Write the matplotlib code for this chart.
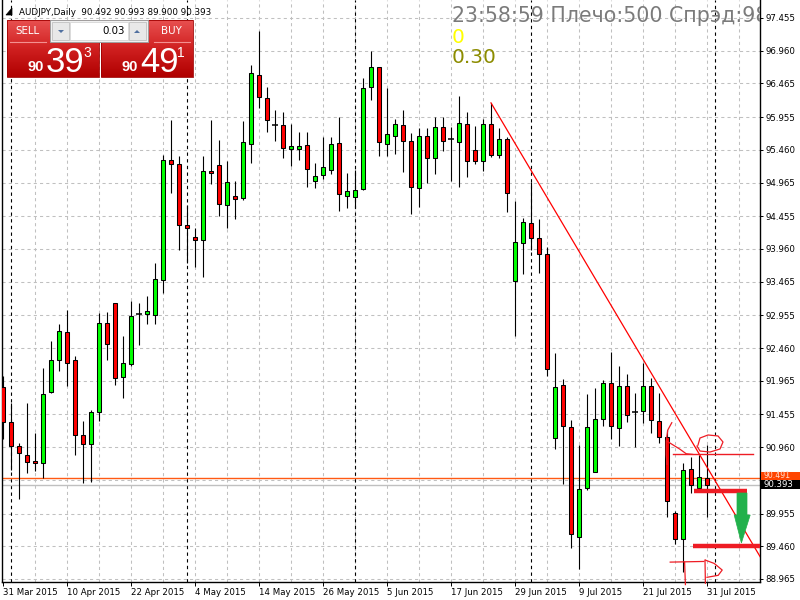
import matplotlib
matplotlib.use("Agg")
import matplotlib.pyplot as plt
import matplotlib.transforms as mtransforms
from matplotlib.patches import Rectangle, Polygon
from matplotlib.colors import LinearSegmentedColormap
import numpy as np

# ---------------- data ----------------
symbol = "AUDJPY,Daily"
opens = [91.87, 91.34, 90.98, 90.84, 90.75, 90.72, 91.79, 92.28, 92.70, 92.28,
         91.14, 91.01, 91.49, 92.84, 93.14, 92.02, 92.22, 92.97, 92.98, 92.96,
         93.49, 95.31, 95.25, 94.32, 94.14, 94.10, 95.14, 95.23, 94.63, 94.76,
         94.73, 95.55, 96.59, 96.24, 95.83, 95.84, 95.47, 95.47, 95.53, 94.99,
         95.08, 95.15, 95.56, 94.76, 94.75, 94.87, 96.41, 96.71, 95.55, 95.67,
         95.84, 95.59, 94.88, 95.67, 95.34, 95.81, 95.62, 95.58, 95.85, 95.46,
         95.29, 95.85, 95.38, 95.62, 93.47, 94.05, 94.35, 94.13, 93.88, 91.10,
         91.90, 91.27, 89.60, 90.34, 90.58, 91.39, 91.93, 91.25, 91.89, 91.49,
         91.51, 91.89, 91.36, 91.11, 89.96, 89.57, 90.63, 90.34, 90.492]
highs = [92.04, 91.63, 91.02, 91.63, 91.17, 92.16, 92.57, 92.82, 93.04, 92.34,
         91.36, 91.52, 92.99, 93.01, 93.14, 92.64, 93.17, 93.14, 93.25, 93.75,
         95.38, 95.91, 95.37, 94.63, 94.28, 95.37, 95.91, 95.61, 95.29, 94.99,
         95.90, 96.74, 97.26, 96.41, 96.06, 96.03, 95.85, 95.73, 95.73, 95.26,
         95.65, 95.65, 95.96, 95.11, 95.15, 96.55, 96.96, 96.72, 96.40, 95.93,
         96.06, 95.71, 95.79, 95.79, 95.96, 95.96, 95.81, 96.27, 96.03, 95.82,
         95.93, 96.17, 95.79, 95.65, 94.69, 94.43, 94.97, 94.41, 93.99, 92.39,
         91.99, 91.37, 90.99, 91.76, 91.86, 91.98, 92.40, 92.19, 92.07, 91.78,
         92.23, 92.01, 91.78, 91.22, 89.99, 90.72, 90.81, 90.84, 90.993]
lows = [91.08, 90.61, 90.18, 90.57, 90.60, 90.49, 91.78, 92.11, 91.89, 90.84,
        90.42, 90.43, 91.36, 92.28, 91.90, 91.70, 92.19, 92.51, 92.82, 92.82,
        93.29, 94.81, 93.94, 93.75, 93.69, 93.54, 94.94, 94.46, 94.28, 94.41,
        94.70, 95.26, 96.09, 95.73, 95.59, 95.34, 95.22, 95.31, 94.90, 94.88,
        95.02, 95.09, 94.53, 94.58, 94.58, 94.85, 96.21, 95.37, 95.37, 95.40,
        95.12, 94.49, 94.59, 94.96, 95.09, 95.44, 94.99, 94.90, 95.05, 95.25,
        95.14, 95.35, 95.34, 94.52, 92.64, 93.58, 93.94, 93.60, 92.04, 90.93,
        90.40, 89.43, 89.12, 90.31, 90.58, 91.28, 91.08, 90.98, 91.34, 90.96,
        91.33, 91.17, 91.02, 89.90, 89.49, 89.07, 90.27, 90.33, 89.900]
closes = [91.34, 90.98, 90.87, 90.74, 90.72, 91.76, 92.28, 92.72, 92.23, 91.14,
          91.01, 91.49, 92.84, 92.52, 92.01, 92.23, 92.95, 92.97, 93.02, 93.51,
          95.31, 95.25, 94.32, 94.28, 94.10, 95.14, 95.11, 94.64, 94.97, 94.72,
          95.58, 96.62, 96.26, 95.91, 95.83, 95.49, 95.52, 95.52, 95.17, 95.06,
          95.20, 95.55, 94.79, 94.84, 94.85, 96.40, 96.71, 95.58, 95.70, 95.85,
          95.59, 94.90, 95.67, 95.34, 95.81, 95.59, 95.62, 95.87, 95.29, 95.29,
          95.85, 95.38, 95.62, 94.81, 94.07, 94.37, 94.13, 93.88, 92.14, 91.87,
          91.28, 89.65, 90.33, 91.27, 91.39, 91.93, 91.28, 91.89, 91.45, 91.49,
          91.89, 91.37, 91.11, 90.15, 89.57, 90.61, 90.39, 90.51, 90.393]

date_labels = ["31 Mar 2015", "10 Apr 2015", "22 Apr 2015", "4 May 2015",
               "14 May 2015", "26 May 2015", "5 Jun 2015", "17 Jun 2015",
               "29 Jun 2015", "9 Jul 2015", "21 Jul 2015", "31 Jul 2015"]
date_label_bars = [0, 8, 16, 24, 32, 40, 48, 56, 64, 72, 80, 88]
month_separator_bars = [1, 23, 44, 66, 89]
price_ticks = [97.455, 96.960, 96.465, 95.955, 95.460, 94.965, 94.455, 93.960,
               93.465, 92.955, 92.460, 91.965, 91.455, 90.960, 90.465, 89.955,
               89.460, 88.965]
price_tick_labels = ["97.455", "96.960", "96.465", "95.955", "95.460", "94.965",
                     "94.455", "93.960", "93.465", "92.955", "92.460", "91.965",
                     "91.455", "90.960", "", "89.955", "89.460", "88.965"]
ask_price = 90.491
bid_price = 90.393

trend_bars = [61, 94.7]
trend_prices = [96.17, 89.29]

# hand-drawn annotations (bar index, price)
thin_line_bars = [83.75, 93.75]
thin_line_price = 90.856
thick1_bars = [86.4, 93.0]
thick1_price = 90.296
thick2_bars = [86.25, 94.6]
thick2_price = 89.464
circle_bars = [86.875, 87.125, 88.125, 89.375, 90.0, 89.625, 88.375, 87.125, 86.75]
circle_prices = [90.992, 91.098, 91.144, 91.129, 91.038, 90.932, 90.886, 90.901, 90.977]
scrib1_bars = [83.6, 83.1, 82.9, 82.9, 83.0]
scrib1_prices = [91.33, 91.22, 91.05, 90.85, 90.70]
scrib2_bars = [83.0, 84.6, 85.4, 86.2]
scrib2_prices = [91.05, 90.93, 90.86, 90.85]
bottom1_bars = [83.4, 87.6]
bottom1_prices = [89.22, 89.23]
bottom2_bars = [85.2, 85.3]
bottom2_prices = [89.22, 88.88]
bottom3_bars = [87.75, 87.8]
bottom3_prices = [89.25, 88.90]
bottom3b_bars = [87.8, 88.9, 89.9, 89.4, 88.0]
bottom3b_prices = [89.25, 89.20, 89.10, 89.02, 88.99]
arrow_bars = [91.75, 93.0, 93.0, 93.4, 92.3, 91.4, 91.75]
arrow_prices = [90.266, 90.266, 89.933, 89.933, 89.509, 89.933, 89.933]

lot_value = "0.03"
sell_pre, sell_big, sell_sup = "90", "39", "3"
buy_pre, buy_big, buy_sup = "90", "49", "1"
info_line1 = "23:58:59 Плечо:500 Спрэд:98"
info_line2 = "0"
info_line3 = "0.30"

# ---------------- figure ----------------
W, H = 800, 600
fig = plt.figure(figsize=(8, 6), dpi=100)
fig.patch.set_facecolor("white")

ax = fig.add_axes([2 / W, 18 / H, 758 / W, 582 / H])
ax.set_facecolor("white")
ax.set_xlim(-0.125, 94.625)
ax.set_ylim(88.919, 97.727)

grid_kw = dict(color="#c0c0c0", lw=0.75, dashes=(3, 3), zorder=1)
for p in price_ticks:
    ax.axhline(p, **grid_kw)
for b in range(4, 95, 4):
    ax.axvline(b, **grid_kw)
for b in month_separator_bars:
    ax.axvline(b, color="black", lw=0.8, dashes=(3, 3), zorder=1.5)

# ask / bid lines
ax.axhline(bid_price, color="#c0c0c0", lw=1.0, zorder=1.6)
ax.axhline(ask_price, color="#ff5a14", lw=1.0, zorder=1.7)

# candles
o = np.array(opens); h = np.array(highs); l = np.array(lows); c = np.array(closes)
xb = np.arange(len(o))
ax.vlines(xb, l, h, color="black", lw=0.8, zorder=3)
up = c > o
dn = c < o
dj = c == o
ax.bar(xb[up], (c - o)[up], bottom=o[up], width=0.55, color="#00ff00",
       edgecolor="black", linewidth=0.75, zorder=4)
ax.bar(xb[dn], (o - c)[dn], bottom=c[dn], width=0.55, color="#ff0000",
       edgecolor="black", linewidth=0.75, zorder=4)
ax.hlines(o[dj], xb[dj] - 0.32, xb[dj] + 0.32, color="black", lw=1.1, zorder=4)

# trend line
ax.plot(trend_bars, trend_prices, color="#ff0000", lw=0.9, zorder=5)

# hand drawn annotations
red = "#ee1c24"
ax.plot(thin_line_bars, [thin_line_price] * 2, color=red, lw=1.0, zorder=6)
ax.plot(thick1_bars, [thick1_price] * 2, color=red, lw=3.2, zorder=6,
        solid_capstyle="butt")
ax.plot(thick2_bars, [thick2_price] * 2, color=red, lw=3.2, zorder=6,
        solid_capstyle="butt", clip_on=False)
ax.plot(circle_bars, circle_prices, color=red, lw=0.9, zorder=6)
ax.plot(scrib1_bars, scrib1_prices, color=red, lw=0.9, zorder=6)
ax.plot(scrib2_bars, scrib2_prices, color=red, lw=0.9, zorder=6)
for bx, py in [(bottom1_bars, bottom1_prices), (bottom2_bars, bottom2_prices),
               (bottom3_bars, bottom3_prices), (bottom3b_bars, bottom3b_prices)]:
    ax.plot(bx, py, color=red, lw=0.9, zorder=6, clip_on=False)
ax.add_patch(Polygon(list(zip(arrow_bars, arrow_prices)), closed=True,
                     fc="#22b14c", ec="#22b14c", lw=0.5, zorder=6))

# spines and ticks
for s in ["left", "right", "bottom"]:
    ax.spines[s].set_color("black")
    ax.spines[s].set_linewidth(1.0)
ax.spines["top"].set_visible(False)
ax.yaxis.tick_right()
ax.set_yticks(price_ticks)
ax.set_yticklabels(price_tick_labels)
ax.tick_params(axis="y", direction="out", length=2.5, width=0.7, pad=1.5,
               labelsize=6.2, colors="black")
ax.set_xticks(date_label_bars)
ax.set_xticklabels(date_labels)
ax.tick_params(axis="x", direction="out", length=3, width=0.7, pad=1.5,
               labelsize=6.2, colors="black")
for lbl in ax.get_xticklabels():
    lbl.set_horizontalalignment("left")

# price boxes on the axis (ask box partly hidden by the bid box, as in MT4)
bl = mtransforms.blended_transform_factory(ax.transAxes, ax.transData)
ax.add_patch(Rectangle((1.0015, ask_price - 0.07), 0.06, 0.17, transform=bl,
                       fc="#ff4500", ec="none", clip_on=False, zorder=7))
ax.text(1.005, ask_price + 0.035, f"{ask_price:.3f}", transform=bl, color="#ffe0d0",
        fontsize=5.6, va="center", ha="left", clip_on=False, zorder=7.5)
ax.add_patch(Rectangle((1.0015, bid_price - 0.07), 0.06, 0.135, transform=bl,
                       fc="black", ec="none", clip_on=False, zorder=8))
ax.text(1.005, bid_price - 0.005, f"{bid_price:.3f}", transform=bl, color="white",
        fontsize=6.2, va="center", ha="left", clip_on=False, zorder=8.5)

# ---------------- overlay (pixel coordinates) ----------------
ov = fig.add_axes([0, 0, 1, 1])
ov.axis("off")
ov.set_zorder(20)

# header
ov.add_patch(Polygon([(6, 15), (12, 8), (12, 15)], closed=True, fc="black", ec="black", lw=0.5))
header = f"{symbol}  {opens[-1]:.3f} {highs[-1]:.3f} {lows[-1]:.3f} {closes[-1]:.3f}"
ov.text(19, 15, header, fontsize=6.3, ha="left", va="baseline", color="black")

# one click panel
cm = LinearSegmentedColormap.from_list("r", ["#e85050", "#d02020", "#b00000"])
grad = np.linspace(0, 1, 64).reshape(-1, 1)
for (x0, x1) in [(7, 99), (101, 193)]:
    ov.imshow(grad, extent=(x0, x1, 77, 20), cmap=cm, aspect="auto",
              interpolation="bilinear", zorder=1)
    ov.add_patch(Rectangle((x0, 20), x1 - x0, 57, fc="none", ec="#a00000", lw=0.6, zorder=2))
ov.plot([10, 46], [42, 42], color="#f49090", lw=0.8, zorder=3)
ov.plot([154, 190], [42, 42], color="#f49090", lw=0.8, zorder=3)
ov.text(27, 31, "SELL", fontsize=7.4, color="white", ha="center", va="center", zorder=4)
ov.text(171, 31, "BUY", fontsize=7.4, color="white", ha="center", va="center", zorder=4)
# lot spinner
ov.add_patch(Rectangle((50, 20), 98, 22, fc="#f0f0f0", ec="#a0a0a0", lw=0.7, zorder=3))
ov.add_patch(Rectangle((70, 22), 58, 18, fc="white", ec="#d0d0d0", lw=0.5, zorder=4))
ov.add_patch(Rectangle((52, 22), 17, 18, fc="#e8e8e8", ec="#b8b8b8", lw=0.5, zorder=4))
ov.add_patch(Rectangle((129, 22), 17, 18, fc="#e8e8e8", ec="#b8b8b8", lw=0.5, zorder=4))
ov.add_patch(Polygon([(58, 30), (64, 30), (61, 33)], closed=True, fc="#5070a0", ec="none", zorder=5))
ov.add_patch(Polygon([(134, 33), (140, 33), (137, 30)], closed=True, fc="#5070a0", ec="none", zorder=5))
ov.text(125, 31, lot_value, fontsize=7.4, color="black", ha="right", va="center", zorder=5)
# big prices
for (xp, xbg, xs, pre, big, sup) in [(28, 46, 83, sell_pre, sell_big, sell_sup),
                                     (122, 140, 177, buy_pre, buy_big, buy_sup)]:
    ov.text(xp, 71, pre, fontsize=10.5, fontweight="bold", color="white",
            family="Liberation Sans", ha="left", va="baseline", zorder=5)
    ov.text(xbg, 72.5, big, fontsize=25, color="white", family="Liberation Sans",
            ha="left", va="baseline", zorder=5)
    ov.text(xs, 57, sup, fontsize=10, color="white", family="Liberation Sans",
            ha="left", va="baseline", zorder=5)

ov.set_xlim(0, W)
ov.set_ylim(H, 0)

# info text in the chart (clipped by the chart area)
ax.text(452, 22, info_line1, transform=ov.transData, fontsize=14.8, color="#7b7b7b",
        ha="left", va="baseline", clip_on=True, zorder=9)
ax.text(452, 43, info_line2, transform=ov.transData, fontsize=14.5, color="#ffff00",
        ha="left", va="baseline", clip_on=True, zorder=9)
ax.text(452, 63, info_line3, transform=ov.transData, fontsize=14.5, color="#8c8c00",
        ha="left", va="baseline", clip_on=True, zorder=9)

fig.savefig("out.png", dpi=100)
